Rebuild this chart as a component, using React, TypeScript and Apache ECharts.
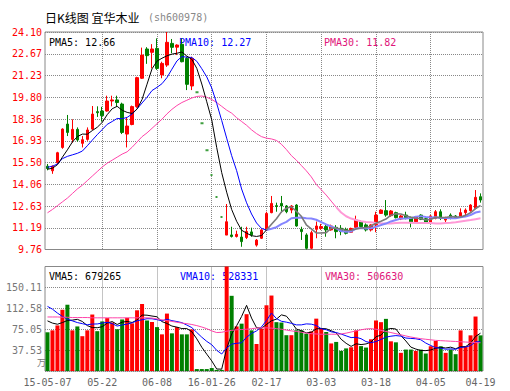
import React, { useEffect, useRef } from "react";
import * as echarts from "echarts";

const dates = [
  "15-05-07","15-05-08","15-05-11","15-05-12","15-05-13","15-05-14","15-05-15","15-05-18","15-05-19","15-05-20",
  "15-05-21","15-05-22","15-05-25","15-05-26","15-05-27","15-05-28","15-05-29","15-06-01","15-06-02","15-06-03",
  "15-06-04","15-06-05","15-06-08","15-06-09","15-06-10","15-06-11","15-06-12","15-06-15","15-06-16","15-06-17",
  "16-01-21","16-01-22","16-01-25","16-01-26","16-01-27","16-01-28","16-01-29","16-02-01","16-02-02","16-02-03",
  "16-02-04","16-02-05","16-02-15","16-02-16","16-02-17","16-02-18","16-02-19","16-02-22","16-02-23","16-02-24",
  "16-02-25","16-02-26","16-02-29","16-03-01","16-03-02","16-03-03","16-03-04","16-03-07","16-03-08","16-03-09",
  "16-03-10","16-03-11","16-03-14","16-03-15","16-03-16","16-03-17","16-03-18","16-03-21","16-03-22","16-03-23",
  "16-03-24","16-03-25","16-03-28","16-03-29","16-03-30","16-03-31","16-04-01","16-04-05","16-04-06","16-04-07",
  "16-04-08","16-04-11","16-04-12","16-04-13","16-04-14","16-04-15","16-04-18","16-04-19"
];
const tickIndex = [0, 11, 22, 33, 44, 55, 66, 77, 87];
const tickText = ["15-05-07", "05-22", "06-08", "16-01-26", "02-17", "03-03", "03-18", "04-05", "04-19"];
const gridIndex = [11, 22, 33, 44, 55, 66, 77];

const open = [
  15.25,14.95,15.48,16.49,18.03,17.02,17.68,16.76,17.02,17.70,
  18.85,18.89,18.89,19.55,19.62,19.35,17.37,18.00,19.18,21.05,
  22.98,22.76,23.02,21.27,21.92,23.35,23.10,23.29,22.36,20.54,
  20.12,18.08,16.30,14.67,13.22,11.90,10.71,10.72,10.62,10.58,
  10.55,10.92,10.05,10.50,11.05,12.19,12.65,12.80,12.63,12.36,
  12.69,11.09,10.72,9.84,11.09,11.16,11.27,11.05,11.22,11.16,
  11.09,10.90,11.22,11.59,11.38,11.05,11.37,12.14,12.32,11.99,
  12.19,11.77,12.03,11.88,11.59,12.03,11.79,11.53,11.81,12.25,
  11.70,12.03,11.97,11.92,12.19,12.32,12.47,13.24
];
const close = [
  15.10,15.25,16.14,17.70,17.48,17.68,16.98,17.00,17.64,18.69,
  18.78,18.58,19.55,19.62,19.45,17.48,17.90,19.18,21.09,22.58,
  22.54,22.98,21.70,22.03,23.42,23.09,23.24,22.14,20.65,22.36,
  20.12,18.08,16.30,14.67,13.22,11.90,11.59,10.62,10.76,10.28,
  10.95,10.72,10.38,11.05,12.14,12.80,12.60,12.63,12.25,12.63,
  11.31,10.94,9.84,10.87,11.31,11.27,11.05,11.31,10.94,10.94,
  10.83,11.15,11.70,11.27,11.05,11.38,12.03,12.36,12.03,12.30,
  11.86,11.97,11.81,11.53,11.92,11.75,11.53,11.97,12.25,11.81,
  11.81,11.81,11.86,12.19,12.36,12.69,13.20,13.02
];
const low = [
  14.98,14.75,15.40,16.40,17.24,16.80,16.87,16.49,16.93,17.64,
  18.50,18.19,18.85,19.20,19.18,17.37,16.49,17.95,19.10,21.00,
  22.00,21.70,21.60,21.05,21.80,22.70,22.58,22.10,20.27,20.27,
  20.12,18.08,16.30,14.67,13.22,11.90,10.71,10.55,10.55,9.94,
  10.45,10.60,9.95,10.45,11.00,12.15,12.25,12.19,12.15,12.15,
  11.26,10.39,9.76,9.78,10.50,11.05,10.60,11.00,10.50,10.70,
  10.75,10.85,11.15,11.15,10.95,10.95,10.90,12.10,11.92,11.92,
  11.81,11.70,11.75,11.22,11.53,11.70,11.50,11.48,11.75,11.70,
  11.50,11.75,11.80,11.86,12.03,12.25,12.41,12.85
];
const high = [
  15.40,15.30,16.20,17.75,18.63,18.34,17.81,17.24,17.81,19.22,
  19.20,19.17,19.90,19.90,19.90,19.44,18.47,19.25,21.15,23.07,
  23.10,23.30,23.68,22.14,24.10,23.64,23.29,23.68,22.47,22.47,
  20.12,18.08,16.30,14.67,13.22,11.90,12.76,11.26,11.00,11.26,
  11.26,11.20,10.45,11.10,12.25,13.29,12.85,13.29,12.69,12.69,
  12.75,11.26,10.83,11.00,11.60,11.45,11.40,11.40,11.37,11.37,
  11.20,11.20,11.99,11.70,11.48,11.42,12.25,12.41,13.02,12.36,
  12.25,12.03,12.25,11.92,11.97,12.08,11.85,12.03,12.36,12.41,
  11.92,12.14,12.03,12.47,12.47,12.75,13.68,13.46
];
const ma5 = [
  15.05,15.12,15.35,15.85,16.33,16.85,17.20,17.37,17.36,17.60,
  17.82,18.14,18.65,19.04,19.20,18.94,18.80,18.73,19.02,19.65,
  20.66,21.67,22.18,22.37,22.53,22.64,22.70,22.78,22.51,22.30,
  21.70,20.67,19.50,18.31,16.48,14.83,13.54,12.40,11.62,11.03,
  10.84,10.67,10.62,10.68,11.05,11.42,11.79,12.24,12.48,12.58,
  12.28,11.95,11.39,11.12,10.85,10.85,10.87,11.16,11.18,11.10,
  11.01,11.03,11.11,11.18,11.20,11.31,11.49,11.62,11.77,12.02,
  12.12,12.10,11.99,11.89,11.82,11.80,11.71,11.74,11.88,11.86,
  11.87,11.93,11.91,11.90,12.01,12.18,12.46,12.66
];
const ma10 = [
  15.18,15.25,15.40,15.75,15.90,16.00,16.10,16.25,16.60,16.97,
  17.33,17.67,18.01,18.20,18.40,18.38,18.47,18.69,19.03,19.42,
  19.80,20.24,20.45,20.69,21.09,21.65,22.19,22.48,22.44,22.42,
  22.17,21.68,21.14,20.41,19.39,18.27,17.10,15.95,14.96,13.75,
  12.84,12.10,11.51,11.15,11.04,11.13,11.23,11.43,11.58,11.82,
  11.85,11.87,11.82,11.80,11.72,11.57,11.41,11.28,11.15,10.98,
  10.93,10.95,11.14,11.18,11.15,11.16,11.26,11.37,11.47,11.61,
  11.71,11.80,11.81,11.83,11.92,11.96,11.91,11.87,11.89,11.84,
  11.84,11.82,11.82,11.89,11.93,12.03,12.20,12.27
];
const ma30 = [
  12.18,12.40,12.65,12.90,13.15,13.45,13.75,14.00,14.30,14.60,
  14.90,15.20,15.45,15.65,15.85,16.05,16.20,16.50,16.85,17.20,
  17.45,17.75,18.05,18.35,18.70,19.00,19.25,19.45,19.60,19.75,
  19.85,19.88,19.80,19.65,19.45,19.20,18.95,18.75,18.45,18.20,
  17.95,17.65,17.40,17.20,17.10,17.05,16.95,16.70,16.35,15.95,
  15.65,15.30,14.95,14.55,14.05,13.70,13.35,12.95,12.55,12.20,
  11.95,11.80,11.70,11.62,11.58,11.55,11.50,11.48,11.47,11.48,
  11.50,11.52,11.53,11.52,11.50,11.50,11.50,11.50,11.48,11.48,
  11.50,11.52,11.55,11.60,11.65,11.70,11.76,11.82
];
const volume = [
  69.5,73,81.8,110,119,73,80,62.5,73,101.4,
  71.5,89,95,87,75,92.5,95.4,85.5,109,120.3,
  90.7,88,78.8,65.8,103.1,67.6,78.8,65.8,65.8,74.7,
  3.5,3.5,3.5,5.3,2,2,187.64,135,80,85,
  102,73,48.5,76,118,135.5,87.7,87,64.3,64.3,
  73.2,73,67,71,94,77,70,49.5,52.2,36.2,
  40.6,42.6,72.9,44.7,42.1,56.9,90.7,87.7,93.6,53.3,
  51.5,32.6,38.5,38.5,36.1,38.5,31.4,44.4,53.9,44.4,
  32.6,38.5,30.2,72.9,44.4,64,97.8,64
];
const vma5 = [
  90.0,86.0,84.0,87.0,90.7,91.4,92.8,88.9,81.5,78.0,
  77.7,79.5,86.0,88.8,83.5,87.7,89.0,87.1,91.5,100.5,
  100.2,98.7,97.4,88.7,85.3,80.7,78.8,76.2,76.2,70.5,
  57.7,42.7,30.2,18.1,3.6,3.3,40.1,66.4,81.3,97.9,
  117.9,95.0,77.7,76.9,83.5,90.2,93.1,100.8,98.5,87.8,
  75.3,72.4,68.4,69.7,75.6,76.4,75.8,72.3,68.5,57.0,
  49.7,44.2,48.9,47.4,48.6,51.8,61.5,64.4,74.2,76.4,
  75.4,63.7,53.9,42.9,39.4,36.8,36.6,37.8,40.9,42.5,
  41.3,42.8,39.9,43.7,43.7,50.0,61.9,67.9
];
const vma10 = [
  116,111,104,98,93,90,87,85,83,84.3,
  84.5,86.1,87.4,85.1,80.7,82.7,84.2,86.5,90.1,92.0,
  93.9,93.8,92.2,90.1,92.9,90.4,88.8,86.8,82.5,77.9,
  69.2,60.7,53.2,47.2,37.1,30.5,41.4,48.3,49.7,50.7,
  60.6,67.5,72.0,79.1,90.7,104.1,94.1,89.3,87.7,85.6,
  82.8,82.8,84.6,84.1,81.7,75.9,74.1,70.3,69.1,66.3,
  63.1,60.0,60.6,58.0,52.8,50.8,52.8,56.7,60.8,62.5,
  63.6,62.6,59.2,58.5,57.9,56.1,50.2,45.8,41.9,41.0,
  39.1,39.7,38.9,42.3,43.1,45.7,52.3,52.8
];
const vma30 = [
  97,97,97,96.5,96.5,96,96,96,96,95.5,
  95.5,95.5,95.5,95.5,95.5,95.5,95.5,95.5,95.5,95.5,
  95.5,95,93.5,92,90.5,89,87.5,86,85,83.5,
  81.5,79,76,72,69,69.5,71.5,73,74,74.5,
  75,76,77,77.5,77.5,77,76,75,73.5,72,
  71,69.5,68,67,66.5,66,66,66,66,66.5,
  68,70,72,74,75.5,76,75,73,71,69,
  67,65,63,61,59.5,58,57,56,55,54.5,
  54,53.5,53,52.5,52,51.5,51,50.7
];
const priceTicks = ["9.76","11.19","12.63","14.06","15.50","16.93","18.36","19.80","21.23","22.67","24.10"];
const volumeTicks = ["", "37.53", "75.05", "112.58", "150.11", ""];
const priceLegend = ["12.66", "12.27", "11.82"];
const volumeLegend = ["679265", "528331", "506630"];

const RED = "#ff0000";
const GREEN = "#008000";
const FLAT = "#3f9f3f";
const BLUE = "#0000ff";
const PINK = "#ff44aa";
const MONO = '"DejaVu Sans Mono", monospace';
const SPLIT_SHORT = 44;
const SPLIT_LONG = 58;

export default function App() {
  const ref = useRef<HTMLDivElement>(null);
  useEffect(() => {
    if (!ref.current) return;
    const chart = echarts.init(ref.current, undefined, { renderer: "svg" });
    const isUp = (i: number) =>
      close[i] > open[i] || (close[i] === open[i] && i > 0 && close[i] > close[i - 1]);
    const candles = open.map((o, i) => {
      const v = [o, close[i], low[i], high[i]];
      if (o === close[i] && high[i] === low[i]) {
        return {
          value: v,
          itemStyle: { color: FLAT, borderColor: FLAT, color0: FLAT, borderColor0: FLAT, borderWidth: 2 },
        };
      }
      return v;
    });
    const vols = volume.map((v, i) => ({ value: v, itemStyle: { color: isUp(i) ? RED : GREEN } }));
    const seg = (arr: number[], from: number, to: number) =>
      arr.map((v, i) => (i >= from && i <= to ? v : null));
    const maLine = (arr: number[], from: number, to: number, color: string, width: number) => ({
      type: "line", xAxisIndex: 0, yAxisIndex: 0, data: seg(arr, from, to), showSymbol: false,
      connectNulls: false, lineStyle: { color, width },
    });
    const dottedLine = { type: "dotted", color: "#888", width: 1 };
    const vSplit = {
      show: true,
      alignWithLabel: true,
      interval: (idx: number) => gridIndex.includes(idx),
      lineStyle: dottedLine,
    };
    const txt = (x: number, y: number, text: string, fill: string, font = `10px ${MONO}`) => ({
      type: "text",
      x,
      y,
      silent: true,
      style: { text, fill, font, verticalAlign: "middle" },
    });
    const last = open.length - 1;
    chart.setOption({
      animation: false,
      backgroundColor: "#fff",
      grid: [
        { left: 45, top: 32, width: 438, height: 217.5, show: true, borderColor: "#888", borderWidth: 1 },
        { left: 45, top: 266.5, width: 438, height: 104.5, show: true, borderColor: "#888", borderWidth: 1 },
      ],
      xAxis: [
        {
          type: "category", gridIndex: 0, data: dates, boundaryGap: true,
          axisLine: { show: false }, axisTick: { show: false, alignWithLabel: true }, axisLabel: { show: false },
          splitLine: vSplit,
        },
        {
          type: "category", gridIndex: 1, data: dates, boundaryGap: true,
          axisLine: { show: false }, axisTick: { show: false, alignWithLabel: true },
          splitLine: vSplit,
          axisLabel: {
            interval: (idx: number) => tickIndex.includes(idx),
            formatter: (_v: string, idx: number) => tickText[tickIndex.indexOf(idx)] ?? "",
            color: "#666", fontFamily: MONO, fontSize: 10, margin: 6,
          },
        },
      ],
      yAxis: [
        { type: "value", gridIndex: 0, min: 9.76, max: 24.1, show: false, splitLine: { show: false } },
        {
          type: "value", gridIndex: 0, position: "left", min: 0, max: 10, interval: 1,
          axisLine: { show: false }, axisTick: { show: false }, splitLine: { show: true, lineStyle: dottedLine },
          axisLabel: { color: RED, fontFamily: MONO, fontSize: 10, margin: 3, formatter: (v: number) => priceTicks[Math.round(v)] ?? "" },
        },
        {
          type: "value", gridIndex: 1, position: "left", min: 0, max: 187.64, interval: 37.528,
          axisLine: { show: false }, axisTick: { show: false }, splitLine: { show: true, lineStyle: dottedLine },
          axisLabel: { color: "#777", fontFamily: MONO, fontSize: 10, margin: 3, formatter: (v: number) => volumeTicks[Math.round(v / 37.528)] ?? "" },
        },
      ],
      series: [
        {
          type: "candlestick", xAxisIndex: 0, yAxisIndex: 0, data: candles, barWidth: 3,
          itemStyle: { color: RED, color0: GREEN, borderColor: RED, borderColor0: GREEN, borderWidth: 1 },
        },
        maLine(ma30, 0, SPLIT_LONG, PINK, 1),
        maLine(ma30, SPLIT_LONG, last, "#ff99d6", 2),
        maLine(ma10, 0, SPLIT_SHORT, BLUE, 1),
        maLine(ma10, SPLIT_SHORT, last, "#8585ff", 2),
        maLine(ma5, 0, SPLIT_SHORT, "#000", 1),
        maLine(ma5, SPLIT_SHORT, last, "#7a7a7a", 1.6),
        { type: "bar", xAxisIndex: 1, yAxisIndex: 2, data: vols, barWidth: 4 },
        { type: "line", xAxisIndex: 1, yAxisIndex: 2, data: vma5, showSymbol: false, lineStyle: { color: "#000", width: 1 } },
        { type: "line", xAxisIndex: 1, yAxisIndex: 2, data: vma10, showSymbol: false, lineStyle: { color: BLUE, width: 1 } },
        { type: "line", xAxisIndex: 1, yAxisIndex: 2, data: vma30, showSymbol: false, lineStyle: { color: PINK, width: 1 } },
      ],
      graphic: [
        txt(45, 17, "日K线图 宜华木业", "#000", '12px "Noto Sans CJK SC"'),
        txt(148, 17, "(sh600978)", "#888", `10px ${MONO}`),
        txt(49, 42, `PMA5: ${priceLegend[0]}`, "#000"),
        txt(179, 42, `PMA10: ${priceLegend[1]}`, BLUE),
        txt(324, 42, `PMA30: ${priceLegend[2]}`, "#e0157a"),
        txt(49, 276, `VMA5: ${volumeLegend[0]}`, "#000"),
        txt(180, 276, `VMA10: ${volumeLegend[1]}`, BLUE),
        txt(325, 276, `VMA30: ${volumeLegend[2]}`, "#e0157a"),
        txt(37, 362, "万", "#777", '9px "Noto Sans CJK SC"'),
      ],
    });
    return () => chart.dispose();
  }, []);
  return (
    <div
      ref={ref}
      style={{ position: "fixed", left: 0, top: 0, width: 510, height: 391, background: "#fff" }}
    />
  );
}
